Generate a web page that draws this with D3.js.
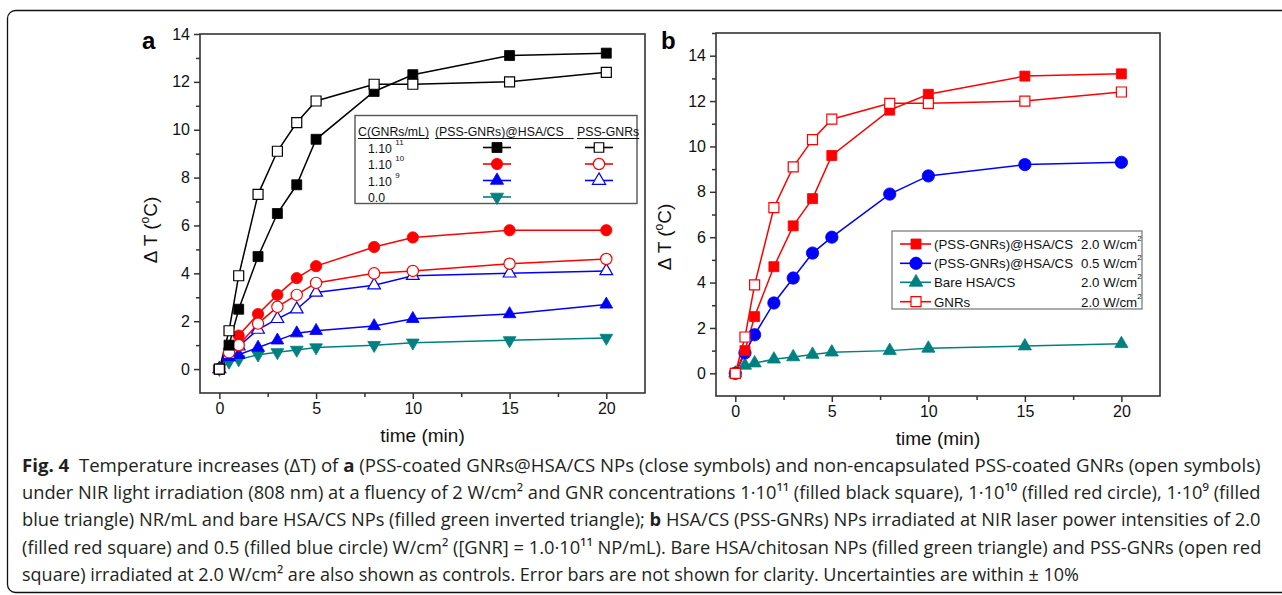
<!DOCTYPE html>
<html><head><meta charset="utf-8">
<script src="https://cdn.jsdelivr.net/npm/d3@7"></script>
<style>
html,body{margin:0;padding:0;background:#fff;}
svg{display:block;}
</style></head>
<body>
<svg id="c" width="1282" height="595"></svg>
<script>
// ---------- DATA ----------
const time = [0, 0.5, 1, 2, 3, 4, 5, 8, 10, 15, 20];
// panel a
const aFilled11 = [0, 1.0, 2.5, 4.7, 6.5, 7.7, 9.6, 11.6, 12.3, 13.1, 13.2];
const aOpen11   = [0, 1.6, 3.9, 7.3, 9.1, 10.3, 11.2, 11.9, 11.9, 12.0, 12.4];
const aFilled10 = [0, 0.8, 1.4, 2.3, 3.1, 3.8, 4.3, 5.1, 5.5, 5.8, 5.8];
const aOpen10   = [0, 0.7, 1.0, 1.9, 2.6, 3.1, 3.6, 4.0, 4.1, 4.4, 4.6];
const aFilled9  = [0, 0.5, 0.6, 0.9, 1.2, 1.5, 1.6, 1.8, 2.1, 2.3, 2.7];
const aOpen9    = [0, 0.6, 0.95, 1.65, 2.1, 2.5, 3.2, 3.5, 3.9, 4.0, 4.1];
const aBare     = [0, 0.3, 0.4, 0.6, 0.7, 0.8, 0.9, 1.0, 1.1, 1.2, 1.3];
// panel b
const bHigh  = [0, 1.0, 2.5, 4.7, 6.5, 7.7, 9.6, 11.6, 12.3, 13.1, 13.2];
const bLow   = [0, 0.9, 1.7, 3.1, 4.2, 5.3, 6.0, 7.9, 8.7, 9.2, 9.3];
const bBare  = [0, 0.35, 0.45, 0.62, 0.72, 0.83, 0.93, 1.0, 1.1, 1.2, 1.3];
const bGNRs  = [0, 1.6, 3.9, 7.3, 9.1, 10.3, 11.2, 11.9, 11.9, 12.0, 12.4];

const xMajor = [0, 5, 10, 15, 20];
const xMinor = [2.5, 7.5, 12.5, 17.5];
const yMajorA = [0, 2, 4, 6, 8, 10, 12, 14];
const yMinorA = [1, 3, 5, 7, 9, 11, 13];
const yMajorB = [0, 2, 4, 6, 8, 10, 12, 14];
const yMinorB = [1, 3, 5, 7, 9, 11, 13, 15];

const legendAHeaders = ["C(GNRs/mL)", "(PSS-GNRs)@HSA/CS", "PSS-GNRs"];
const legendARows = [["1.10 ", "11"], ["1.10 ", "10"], ["1.10 ", "9"], ["0.0", ""]];
const legendBNames = ["(PSS-GNRs)@HSA/CS", "(PSS-GNRs)@HSA/CS", "Bare HSA/CS", "GNRs"];
const legendBPowers = ["2.0 W/cm", "0.5 W/cm", "2.0 W/cm", "2.0 W/cm"];

const caption = [
  [{t:"Fig. 4", b:1}, {t:"  Temperature increases (ΔT) of "}, {t:"a", b:1}, {t:" (PSS-coated GNRs@HSA/CS NPs (close symbols) and non-encapsulated PSS-coated GNRs (open symbols)"}],
  [{t:"under NIR light irradiation (808 nm) at a fluency of 2 W/cm² and GNR concentrations 1·10¹¹ (filled black square), 1·10¹⁰ (filled red circle), 1·10⁹ (filled"}],
  [{t:"blue triangle) NR/mL and bare HSA/CS NPs (filled green inverted triangle); "}, {t:"b", b:1}, {t:" HSA/CS (PSS-GNRs) NPs irradiated at NIR laser power intensities of 2.0"}],
  [{t:"(filled red square) and 0.5 (filled blue circle) W/cm² ([GNR] = 1.0·10¹¹ NP/mL). Bare HSA/chitosan NPs (filled green triangle) and PSS-GNRs (open red"}],
  [{t:"square) irradiated at 2.0 W/cm² are also shown as controls. Error bars are not shown for clarity. Uncertainties are within ± 10%"}]
];
const captionWidths = [1240, 1240, 1240, 1240, 1058];

// ---------- DRAW ----------
const svg = d3.select("#c");
const FONT = "'Liberation Sans', Arial, sans-serif";
const AX = "#333";

// outer rounded border
svg.append("rect").attr("x", 7.5).attr("y", 10.5).attr("width", 1320).attr("height", 582)
  .attr("rx", 8).attr("fill", "none").attr("stroke", "#111").attr("stroke-width", 1.3);

function panel(cfg) {
  const g = svg.append("g");
  const x = d3.scaleLinear().domain([-1, 22]).range([cfg.x0, cfg.x1]);
  const y = d3.scaleLinear().domain(cfg.yDom).range([cfg.y1, cfg.y0]);

  g.append("g").attr("transform", `translate(0,${cfg.y1})`)
    .call(d3.axisBottom(x).tickValues(xMajor).tickSize(6).tickPadding(4).tickSizeOuter(0));
  g.append("g").attr("transform", `translate(0,${cfg.y1})`)
    .call(d3.axisBottom(x).tickValues(xMinor).tickSize(4).tickFormat("").tickSizeOuter(0));
  g.append("g").attr("transform", `translate(${cfg.x0},0)`)
    .call(d3.axisLeft(y).tickValues(cfg.yMajor).tickSize(6).tickPadding(4).tickSizeOuter(0));
  g.append("g").attr("transform", `translate(${cfg.x0},0)`)
    .call(d3.axisLeft(y).tickValues(cfg.yMinor).tickSize(4).tickFormat("").tickSizeOuter(0));
  g.selectAll(".domain").remove();
  g.selectAll(".tick line").attr("stroke", AX).attr("stroke-width", 1.5);
  g.selectAll(".tick text").attr("font-family", FONT).attr("font-size", 16).attr("fill", "#111");

  g.append("rect").attr("x", cfg.x0).attr("y", cfg.y0).attr("width", cfg.x1 - cfg.x0)
    .attr("height", cfg.y1 - cfg.y0).attr("fill", "none").attr("stroke", AX).attr("stroke-width", 1.6);

  g.append("text").attr("x", (cfg.x0 + cfg.x1) / 2).attr("y", cfg.y1 + 49).attr("text-anchor", "middle")
    .attr("font-family", FONT).attr("font-size", 19).attr("fill", "#111").text("time (min)");
  const yt = g.append("text").attr("transform", `translate(${cfg.ytx},${cfg.yty}) rotate(-90)`)
    .attr("text-anchor", "middle").attr("font-family", FONT).attr("font-size", 19).attr("fill", "#111");
  yt.append("tspan").text("Δ T (");
  yt.append("tspan").attr("font-size", 12).attr("dy", -8).text("o");
  yt.append("tspan").attr("dy", 8).text("C)");

  g.append("text").attr("x", cfg.lx).attr("y", 49).attr("font-family", FONT).attr("font-weight", "bold")
    .attr("font-size", 24).attr("fill", "#000").text(cfg.letter);

  const line = d3.line().x((d, i) => x(time[i])).y(d => y(d));
  cfg.series.forEach(s => {
    g.append("path").attr("d", line(s.v)).attr("fill", "none").attr("stroke", s.c).attr("stroke-width", 1.5);
  });
  cfg.series.forEach(s => {
    const p = d3.symbol().type(s.t).size(s.sz)();
    g.selectAll(null).data(s.v).enter().append("path")
      .attr("d", p)
      .attr("transform", (d, i) => `translate(${x(time[i])},${y(d)})${s.inv ? " rotate(180)" : ""}`)
      .attr("fill", s.open ? "#fff" : s.c).attr("stroke", s.c).attr("stroke-width", s.open ? 1.2 : 0.8);
  });
  return {g, x, y};
}

panel({
  x0: 200, x1: 645, y0: 34, y1: 393, yDom: [-1, 14], yMajor: yMajorA, yMinor: yMinorA,
  ytx: 157, yty: 230, lx: 142, letter: "a",
  series: [
    {v: aBare, c: "#008080", t: d3.symbolTriangle, sz: 70, inv: true},
    {v: aFilled9, c: "#0000ff", t: d3.symbolTriangle, sz: 70},
    {v: aOpen9, c: "#0000ff", t: d3.symbolTriangle, sz: 70, open: true},
    {v: aFilled10, c: "#ff0000", t: d3.symbolCircle, sz: 100},
    {v: aOpen10, c: "#ff0000", t: d3.symbolCircle, sz: 100, open: true},
    {v: aFilled11, c: "#000000", t: d3.symbolSquare, sz: 100},
    {v: aOpen11, c: "#000000", t: d3.symbolSquare, sz: 100, open: true}
  ]
});

panel({
  x0: 716, x1: 1160, y0: 33, y1: 396, yDom: [-1, 15], yMajor: yMajorB, yMinor: yMinorB,
  ytx: 671, yty: 237, lx: 661, letter: "b",
  series: [
    {v: bBare, c: "#008080", t: d3.symbolTriangle, sz: 75},
    {v: bLow, c: "#0000ff", t: d3.symbolCircle, sz: 120},
    {v: bHigh, c: "#ff0000", t: d3.symbolSquare, sz: 100},
    {v: bGNRs, c: "#ff0000", t: d3.symbolSquare, sz: 100, open: true}
  ]
});

// ---------- Legend a ----------
(function () {
  const g = svg.append("g");
  g.append("rect").attr("x", 355).attr("y", 115.5).attr("width", 282).attr("height", 88)
    .attr("fill", "#fff").attr("stroke", "#555").attr("stroke-width", 1.4);
  const hx = [358, 435, 577];
  legendAHeaders.forEach((h, i) => {
    const t = g.append("text").attr("x", hx[i]).attr("y", 136).attr("font-family", FONT)
      .attr("font-size", 12.3).attr("fill", "#111").text(h);
    const bb = t.node().getBBox();
    const extra = i === 1 ? 10 : 0;
    g.append("line").attr("x1", bb.x).attr("x2", bb.x + bb.width + extra).attr("y1", 138.5).attr("y2", 138.5)
      .attr("stroke", "#111").attr("stroke-width", 1);
  });
  const rowY = [147.5, 164, 180.5, 197];
  const filled = [
    {c: "#000", t: d3.symbolSquare, sz: 100},
    {c: "#ff0000", t: d3.symbolCircle, sz: 100},
    {c: "#0000ff", t: d3.symbolTriangle, sz: 75},
    {c: "#008080", t: d3.symbolTriangle, sz: 75, inv: true}
  ];
  const open = [
    {c: "#000", t: d3.symbolSquare, sz: 90},
    {c: "#ff0000", t: d3.symbolCircle, sz: 100},
    {c: "#0000ff", t: d3.symbolTriangle, sz: 75},
    null
  ];
  legendARows.forEach((r, i) => {
    const t = g.append("text").attr("x", 368).attr("y", rowY[i] + 5).attr("font-family", FONT)
      .attr("font-size", 12.3).attr("fill", "#111");
    t.append("tspan").text(r[0]);
    if (r[1]) t.append("tspan").attr("font-size", 8).attr("dy", -8).text(r[1]);
    [[filled[i], 497], [open[i], 599]].forEach(([m, cx]) => {
      if (!m) return;
      g.append("line").attr("x1", cx - 14).attr("x2", cx + 14).attr("y1", rowY[i]).attr("y2", rowY[i])
        .attr("stroke", m.c).attr("stroke-width", 1.6);
      g.append("path").attr("d", d3.symbol().type(m.t).size(m.sz)())
        .attr("transform", `translate(${cx},${rowY[i]})${m.inv ? " rotate(180)" : ""}`)
        .attr("fill", m === open[i] ? "#fff" : m.c).attr("stroke", m.c).attr("stroke-width", m === open[i] ? 1.2 : 0.8);
    });
  });
})();

// ---------- Legend b ----------
(function () {
  const g = svg.append("g");
  g.append("rect").attr("x", 892).attr("y", 231).attr("width", 250).attr("height", 78)
    .attr("fill", "#fff").attr("stroke", "#888").attr("stroke-width", 1.4);
  const rowY = [244, 263.3, 282.3, 301.7];
  const mk = [
    {c: "#ff0000", t: d3.symbolSquare, sz: 100},
    {c: "#0000ff", t: d3.symbolCircle, sz: 120},
    {c: "#008080", t: d3.symbolTriangle, sz: 80},
    {c: "#ff0000", t: d3.symbolSquare, sz: 100, open: true}
  ];
  legendBNames.forEach((n, i) => {
    const m = mk[i];
    g.append("line").attr("x1", 900).attr("x2", 931).attr("y1", rowY[i]).attr("y2", rowY[i])
      .attr("stroke", m.c).attr("stroke-width", 1.6);
    g.append("path").attr("d", d3.symbol().type(m.t).size(m.sz)())
      .attr("transform", `translate(916,${rowY[i]})`)
      .attr("fill", m.open ? "#fff" : m.c).attr("stroke", m.c).attr("stroke-width", m.open ? 1.2 : 0.8);
    g.append("text").attr("x", 934).attr("y", rowY[i] + 5).attr("font-family", FONT)
      .attr("font-size", 13.3).attr("fill", "#111").text(n);
    const p = g.append("text").attr("x", 1081).attr("y", rowY[i] + 5).attr("font-family", FONT)
      .attr("font-size", 13.3).attr("fill", "#111");
    p.append("tspan").text(legendBPowers[i]);
    p.append("tspan").attr("font-size", 8).attr("dy", -8).text("2");
  });
})();

// ---------- Caption ----------
(function () {
  const g = svg.append("g");
  const base0 = 472, lh = 27.2;
  caption.forEach((segs, li) => {
    const t = g.append("text").attr("x", 0).attr("y", 0)
      .attr("font-family", "'Open Sans', 'Noto Sans', sans-serif").attr("font-size", 18.5).attr("fill", "#231f20")
      .style("white-space", "pre");
    segs.forEach(s => {
      const ts = t.append("tspan").text(s.t);
      if (s.b) ts.attr("font-weight", "bold");
    });
    const w = t.node().getComputedTextLength();
    const sx = captionWidths[li] / w;
    t.attr("transform", `translate(22,${base0 + li * lh}) scale(${sx},1)`);
  });
})();
</script>
</body></html>
